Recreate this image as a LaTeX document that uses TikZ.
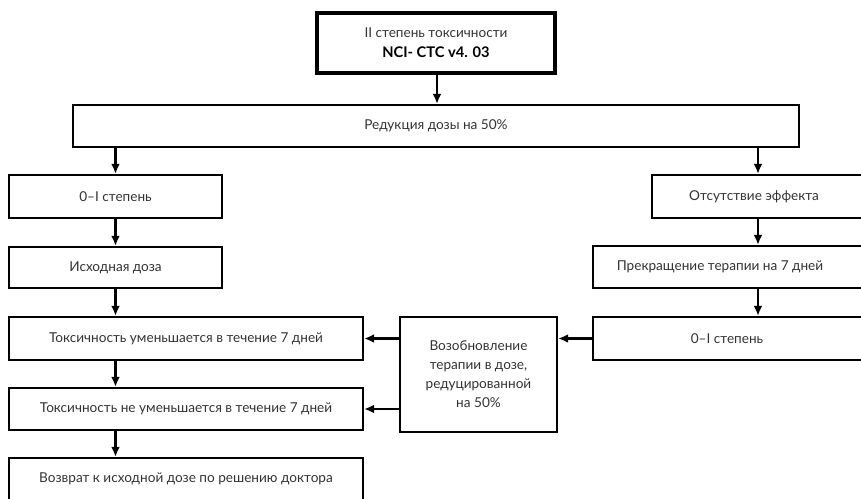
\documentclass[tikz,border=0pt]{standalone}
\usepackage{fontspec}
\setmainfont{Lato}
\usetikzlibrary{arrows.meta}
\definecolor{txt}{gray}{0.2}
\tikzset{
  box/.style={draw=black, line width=1.6pt, inner sep=0pt, anchor=center},
  lbl/.style={text=txt, font=\fontsize{10.2}{12}\selectfont, inner sep=0pt, align=center},
  arr/.style={draw=black, line width=1.6pt, -{Latex[length=7.5pt,width=6.5pt]}},
}
\begin{document}
\begin{tikzpicture}[x=0.75pt,y=-0.75pt]
\useasboundingbox (0,0) rectangle (861,499);
\clip (0,0) rectangle (861,499);
% boxes
\node[box, line width=2.4pt, minimum width=238*0.75pt, minimum height=60*0.75pt] (top) at (436,43) {};
\node[lbl, align=center, font=\fontsize{10.2}{15}\selectfont] (toptxt) at (436,43) {II степень токсичности\\{\fontsize{11}{15}\selectfont\bfseries\color{black}NCI- CTC v4. 03}};
\node[box, minimum width=726*0.75pt, minimum height=42*0.75pt] (red) at (436,126) {};
\node[lbl] (redtxt) at (436,126) {Редукция дозы на 50\%};
\node[box, minimum width=213*0.75pt, minimum height=43*0.75pt] (l1) at (115.5,196.5) {};
\node[lbl] (l1txt) at (115.5,196.5) {0–I степень};
\node[box, minimum width=213*0.75pt, minimum height=41*0.75pt] (l2) at (115.5,267.5) {};
\node[lbl] (l2txt) at (115.5,267.5) {Исходная доза};
\node[box, minimum width=354*0.75pt, minimum height=43*0.75pt] (l3) at (186,338.5) {};
\node[lbl] (l3txt) at (186,338.5) {Токсичность уменьшается в течение 7 дней};
\node[box, minimum width=354*0.75pt, minimum height=42*0.75pt] (l4) at (186,409) {};
\node[lbl] (l4txt) at (186,409) {Токсичность не уменьшается в течение 7 дней};
\node[box, minimum width=354*0.75pt, minimum height=46*0.75pt] (l5) at (186,481) {};
\node[lbl] (l5txt) at (186,479) {Возврат к исходной дозе по решению доктора};
\node[box, minimum width=220*0.75pt, minimum height=43*0.75pt] (r1) at (762,196.5) {};
\node[lbl] (r1txt) at (754,196.5) {Отсутствие эффекта};
\node[box, minimum width=280*0.75pt, minimum height=42*0.75pt] (r2) at (733,267) {};
\node[lbl] (r2txt) at (720,267) {Прекращение терапии на 7 дней};
\node[box, minimum width=280*0.75pt, minimum height=43*0.75pt] (r3) at (733,338.5) {};
\node[lbl] (r3txt) at (727,338.5) {0–I степень};
\node[box, minimum width=157*0.75pt, minimum height=115*0.75pt] (mid) at (478.5,374.5) {};
\node[lbl, font=\fontsize{10.2}{14.2}\selectfont] (midtxt) at (478.5,374.5) {Возобновление\\терапии в дозе,\\редуцированной\\на 50\%};
% connectors
\draw[arr] (top.south -| 437,0) -- (red.north -| 437,0);
\draw[arr] (red.south -| l1.north) -- (l1.north);
\draw[arr] (red.south -| 758,0) -- (r1.north -| 758,0);
\draw[arr] (l1.south) -- (l2.north);
\draw[arr] (l2.south) -- (l2.south |- l3.north);
\draw[arr] (l3.south -| l2.south) -- (l4.north -| l2.south);
\draw[arr] (l4.south -| l2.south) -- (l5.north -| l2.south);
\draw[arr] (r1.south -| 758,0) -- (r2.north -| 758,0);
\draw[arr] (r2.south -| 758,0) -- (r3.north -| 758,0);
\draw[arr] (r3.west) -- (mid.east |- r3.west);
\draw[arr] (mid.west |- l3.east) -- (l3.east);
\draw[arr] (mid.west |- l4.east) -- (l4.east);
\end{tikzpicture}
\end{document}
